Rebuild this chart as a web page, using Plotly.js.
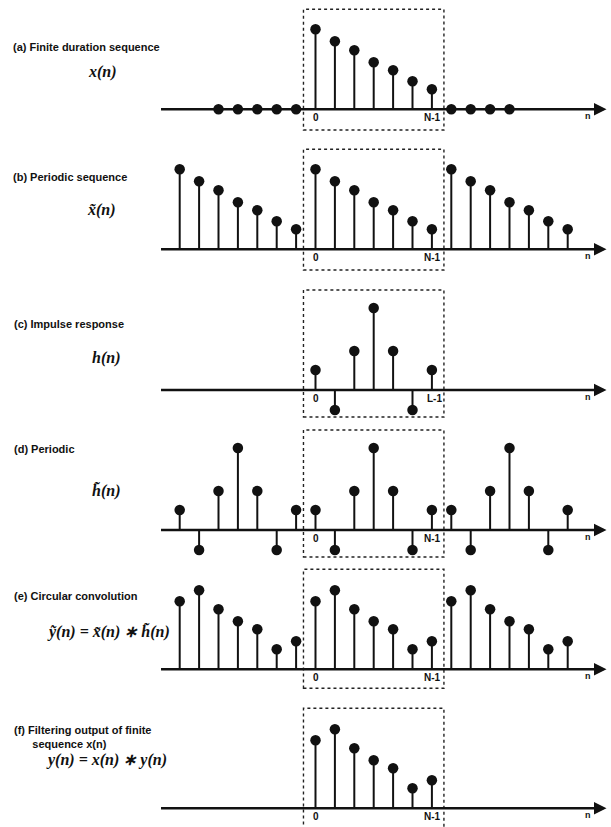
<!DOCTYPE html>
<html><head><meta charset="utf-8">
<script src="https://cdn.plot.ly/plotly-3.0.1.min.js"></script>
<style>html,body{margin:0;padding:0;background:#fff}</style>
</head><body><div id="chart" style="width:611px;height:827px"></div>
<script>
// ---------- data ----------
const nBase = [0, 1, 2, 3, 4, 5, 6];
const xSeq = [8.0, 6.8, 5.9, 4.7, 3.9, 2.8, 2.0];        // x(n), n = 0..N-1
const xZeroN = [-5, -4, -3, -2, -1, 7, 8, 9, 10];          // zero samples of x(n)
const xZeroV = [0, 0, 0, 0, 0, 0, 0, 0, 0];
const hSeq = [2.0, -2.0, 3.9, 8.2, 3.9, -2.0, 2.0];       // h(n), n = 0..L-1
const ySeq = [6.8, 7.9, 6.0, 4.8, 4.0, 2.0, 2.8];         // y(n)
const periodShifts = [-7, 0, 7];

const panelTitles = [
  "(a) Finite duration sequence",
  "(b) Periodic sequence",
  "(c) Impulse response",
  "(d) Periodic",
  "(e) Circular convolution",
  "(f) Filtering output of finite<br>      sequence x(n)"
];
const mathLabels = [
  "x(n)",
  "x\u0303(n)",
  "h(n)",
  "h\u0303(n)",
  "y\u0303(n) = x\u0303(n) \u2217 h\u0303(n)",
  "y(n) = x(n) \u2217 y(n)"
];
const endLabels = ["N-1", "N-1", "L-1", "N-1", "N-1", "N-1"];
const originLabel = "0";
const axisLabel = "n";

// ---------- geometry ----------
const W = 611, H = 827;
const nPx = 19.4, n0Px = 315.5, unitPx = 10;
const xr = [-n0Px / nPx, (W - n0Px) / nPx];
const geo = [
  {axisY: 109.3, top: 0,   bot: 138, boxBelow: 20.7, tY: 46.7,  mX: 86, mY: 72.3, tX: 11},
  {axisY: 249.3, top: 140, bot: 278, boxBelow: 20.7, tY: 177.3, mX: 85, mY: 210, tX: 11},
  {axisY: 390,   top: 282, bot: 420, boxBelow: 27,   tY: 324,   mX: 90, mY: 358, tX: 12},
  {axisY: 530,   top: 422, bot: 562, boxBelow: 27,   tY: 449.3, mX: 90, mY: 490, tX: 12},
  {axisY: 669.3, top: 564, bot: 700, boxBelow: 19,   tY: 596,   mX: 45, mY: 631.7, tX: 12},
  {axisY: 808.3, top: 702, bot: 827, boxBelow: 40,   tY: 737,   mX: 44, mY: 760, tX: 12}
];

function periodic(seq) {
  return {
    n: periodShifts.flatMap(s => nBase.map(k => k + s)),
    v: periodShifts.flatMap(() => seq)
  };
}
const panelData = [
  {n: nBase, v: xSeq, zn: xZeroN, zv: xZeroV},
  periodic(xSeq),
  {n: nBase, v: hSeq},
  periodic(hSeq),
  periodic(ySeq),
  {n: nBase, v: ySeq}
];

const INK = "#111";
const traces = [];
const layout = {
  width: W, height: H, margin: {l: 0, r: 0, t: 0, b: 0},
  paper_bgcolor: "#fff", plot_bgcolor: "rgba(0,0,0,0)",
  showlegend: false, shapes: [], annotations: []
};

panelData.forEach((d, i) => {
  const k = i + 1, sx = k === 1 ? "" : String(k);
  const xa = "x" + sx, ya = "y" + sx;
  const g = geo[i];
  layout["xaxis" + sx] = {domain: [0, 1], range: xr, visible: false, anchor: ya, fixedrange: true};
  layout["yaxis" + sx] = {
    domain: [1 - g.bot / H, 1 - g.top / H],
    range: [-(g.bot - g.axisY) / unitPx, (g.axisY - g.top) / unitPx],
    visible: false, anchor: xa, fixedrange: true
  };
  // stems
  const sxs = [], sys = [];
  d.n.forEach((n, j) => { sxs.push(n, n, null); sys.push(0, d.v[j], null); });
  traces.push({type: "scatter", mode: "lines", x: sxs, y: sys, xaxis: xa, yaxis: ya,
    line: {color: INK, width: 2}, hoverinfo: "skip", cliponaxis: false});
  traces.push({type: "scatter", mode: "markers", x: d.n, y: d.v, xaxis: xa, yaxis: ya,
    marker: {color: INK, size: 10.5}, cliponaxis: false});
  if (d.zn) {
    traces.push({type: "scatter", mode: "markers", x: d.zn, y: d.zv, xaxis: xa, yaxis: ya,
      marker: {color: INK, size: 10.5}, cliponaxis: false});
  }
  // dotted box
  layout.shapes.push({type: "rect", xref: xa, yref: ya, x0: -0.62, x1: 6.62,
    y0: -g.boxBelow / unitPx, y1: 10, line: {color: "#222", width: 1.4, dash: "dot"}, layer: "below"});
  // horizontal axis with arrow
  layout.annotations.push({xref: xa, yref: ya, axref: xa, ayref: ya, x: 15.0, y: 0, ax: -8.04, ay: 0,
    text: "", showarrow: true, arrowhead: 2, arrowsize: 1, arrowwidth: 2.5, arrowcolor: INK, standoff: 0});
  // tick-like labels
  const lf = {family: "Liberation Sans, Arial, sans-serif", size: 10, color: INK};
  layout.annotations.push({xref: xa, yref: ya, x: 0.05, y: -0.8, text: "<b>" + originLabel + "</b>",
    showarrow: false, font: lf, xanchor: "center", yanchor: "middle"});
  layout.annotations.push({xref: xa, yref: ya, x: i === 2 ? 6.15 : 6.05, y: -0.8, text: "<b>" + endLabels[i] + "</b>",
    showarrow: false, font: lf, xanchor: "center", yanchor: "middle"});
  layout.annotations.push({xref: xa, yref: ya, x: 14.05, y: -0.65, text: "<b>" + axisLabel + "</b>",
    showarrow: false, font: {family: "Liberation Sans, Arial, sans-serif", size: 9, color: INK},
    xanchor: "center", yanchor: "middle"});
  // panel title
  layout.annotations.push({xref: "paper", yref: "paper", x: g.tX / W, y: 1 - g.tY / H,
    text: "<b>" + panelTitles[i].replace("<br>", "</b><br><b>") + "</b>", showarrow: false, align: "left",
    font: {family: "Liberation Sans, Arial, sans-serif", size: 11, color: INK},
    xanchor: "left", yanchor: "middle"});
  // math label
  layout.annotations.push({xref: "paper", yref: "paper", x: g.mX / W, y: 1 - g.mY / H,
    text: "<b><i>" + mathLabels[i] + "</i></b>", showarrow: false,
    font: {family: "Liberation Serif, Times New Roman, serif", size: 16, color: INK},
    xanchor: "left", yanchor: "middle"});
});

Plotly.newPlot("chart", traces, layout, {staticPlot: true, displayModeBar: false});
</script>
</body></html>
